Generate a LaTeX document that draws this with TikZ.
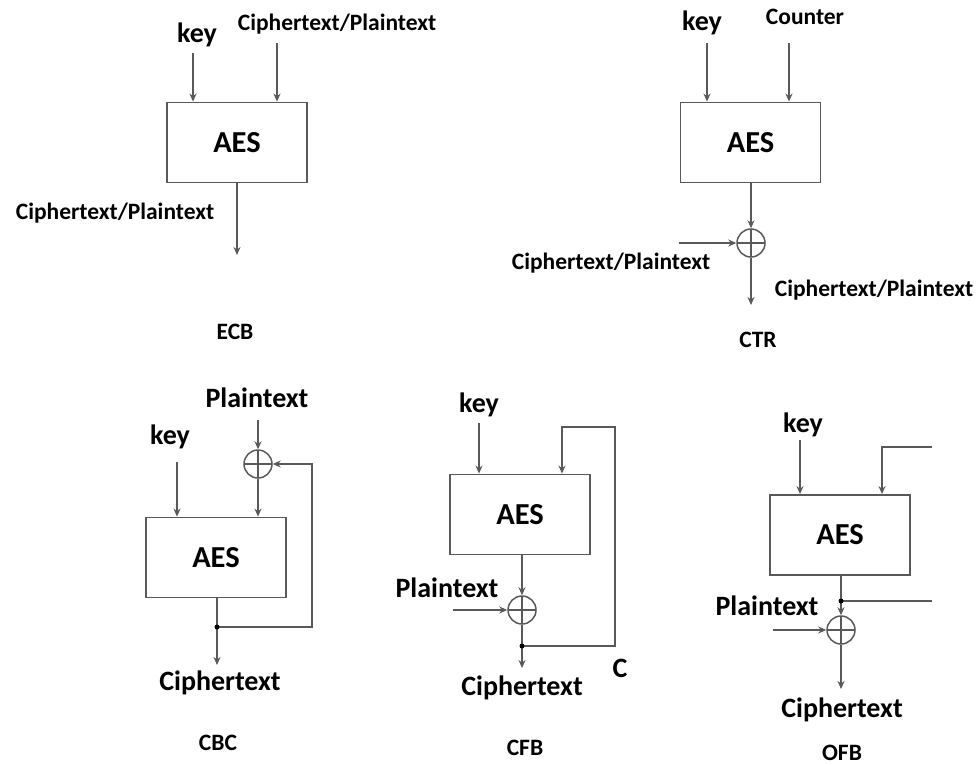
\documentclass[tikz,border=0pt]{standalone}
\usepackage{fontspec}
\setmainfont{Carlito}
\usetikzlibrary{arrows.meta}

\tikzset{
  wire/.style={draw=black!65, line width=1.8pt},
  flow/.style={wire, -{Stealth[length=8pt,width=7pt]}},
  aesbox/.style={draw=black!65, line width=1.8pt, minimum width=140pt, minimum height=80pt,
    font=\fontsize{30.5}{32}\selectfont\bfseries},
  xorgate/.style={circle, draw=black!65, line width=1.5pt, minimum size=28pt, inner sep=0pt,
    path picture={\draw[black!65, line width=1.3pt]
      (path picture bounding box.north) -- (path picture bounding box.south)
      (path picture bounding box.west) -- (path picture bounding box.east);}},
  big/.style={font=\fontsize{28}{30}\selectfont\bfseries},
  small/.style={font=\fontsize{23.5}{25}\selectfont\bfseries},
  modename/.style={font=\fontsize{23.5}{25}\selectfont\bfseries}
}

\begin{document}
\begin{tikzpicture}[x=1pt, y=-1pt]
  \useasboundingbox (0,0) rectangle (979,765);

  % ECB
  \node[aesbox] (ecb) at (237,142.5) {AES};
  \node[big] (ecbkey) at (197,35) {key};
  \node[small] (ecbin) at (337,24) {Ciphertext/Plaintext};
  \node[small] (ecbout) at (115,213) {Ciphertext/Plaintext};
  \node[modename] (ecbname) at (235,332) {ECB};
  \coordinate (ecbk) at (193,53);
  \coordinate (ecbi) at (277,43);
  \coordinate (ecbo) at (237,255);
  \draw[flow] (ecbk) -- (ecbk |- ecb.north);
  \draw[flow] (ecbi) -- (ecbi |- ecb.north);
  \draw[flow] (ecb.south -| ecbo) -- (ecbo);

  % CTR
  \node[aesbox] (ctr) at (750.5,142.5) {AES};
  \node[big] (ctrkey) at (702,23) {key};
  \node[small] (ctrcnt) at (805,17) {Counter};
  \node[xorgate] (ctrx) at (751,243) {};
  \node[small] (ctrin) at (611,263) {Ciphertext/Plaintext};
  \node[small] (ctrout) at (874,290) {Ciphertext/Plaintext};
  \node[modename] (ctrname) at (758,340) {CTR};
  \coordinate (ctrk) at (707,43);
  \coordinate (ctrc) at (789,43);
  \coordinate (ctri) at (679,243);
  \coordinate (ctro) at (751,305);
  \draw[flow] (ctrk) -- (ctrk |- ctr.north);
  \draw[flow] (ctrc) -- (ctrc |- ctr.north);
  \draw[flow] (ctr.south -| ctrx) -- (ctrx.north);
  \draw[flow] (ctri) -- (ctrx.west);
  \draw[flow] (ctrx.south) -- (ctro);

  % CBC
  \node[aesbox] (cbc) at (216,557.5) {AES};
  \node[big] (cbcpt) at (257,398) {Plaintext};
  \node[big] (cbckey) at (170,437) {key};
  \node[xorgate] (cbcx) at (258,464) {};
  \node[big] (cbcct) at (220,683) {Ciphertext};
  \node[modename] (cbcname) at (218,743) {CBC};
  \coordinate (cbck) at (177,462);
  \coordinate (cbcp) at (258,420);
  \coordinate (cbcj) at (217,627);
  \coordinate (cbco) at (217,665);
  \coordinate (cbcr) at (312,627);
  \draw[flow] (cbck) -- (cbck |- cbc.north);
  \draw[flow] (cbcp) -- (cbcx.north);
  \draw[flow] (cbcx.south) -- (cbcx |- cbc.north);
  \draw[flow] (cbc.south -| cbcj) -- (cbco);
  \draw[flow] (cbcj) -- (cbcr) |- (cbcx.east);
  \fill (cbcj) circle (2.5);

  % CFB
  \node[aesbox] (cfb) at (520,514.5) {AES};
  \node[big] (cfbkey) at (479,405) {key};
  \node[xorgate] (cfbx) at (522,610) {};
  \node[big] (cfbpt) at (447,588) {Plaintext};
  \node[big] (cfbct) at (522,688) {Ciphertext};
  \node[big] (cfbc) at (620,668) {C};
  \node[modename] (cfbname) at (525,748) {CFB};
  \coordinate (cfbk) at (479,423);
  \coordinate (cfbp) at (453,610);
  \coordinate (cfbj) at (522,646);
  \coordinate (cfbo) at (522,668);
  \coordinate (cfbr) at (615,427);
  \coordinate (cfbt) at (562,427);
  \draw[flow] (cfbk) -- (cfbk |- cfb.north);
  \draw[flow] (cfb.south -| cfbx) -- (cfbx.north);
  \draw[flow] (cfbp) -- (cfbx.west);
  \draw[flow] (cfbx.south) -- (cfbo);
  \draw[flow] (cfbj) -| (cfbr) -| (cfb.north -| cfbt);
  \fill (cfbj) circle (2.5);

  % OFB
  \node[aesbox] (ofb) at (840,535) {AES};
  \node[big] (ofbkey) at (803,425) {key};
  \node[xorgate] (ofbx) at (841,630) {};
  \node[big] (ofbpt) at (767,606) {Plaintext};
  \node[big] (ofbct) at (842,710) {Ciphertext};
  \node[modename] (ofbname) at (842,753) {OFB};
  \coordinate (ofbk) at (800,440);
  \coordinate (ofbp) at (773,630);
  \coordinate (ofbj) at (841,601);
  \coordinate (ofbo) at (841,689);
  \coordinate (ofbe) at (932,601);
  \coordinate (ofbf) at (932,447);
  \coordinate (ofbt) at (882,447);
  \draw[flow] (ofbk) -- (ofbk |- ofb.north);
  \draw[flow] (ofbf) -| (ofb.north -| ofbt);
  \draw[flow] (ofb.south -| ofbj) -- (ofbx.north);
  \draw[wire] (ofbj) -- (ofbe);
  \draw[flow] (ofbp) -- (ofbx.west);
  \draw[flow] (ofbx.south) -- (ofbo);
  \fill (ofbj) circle (2.5);
\end{tikzpicture}
\end{document}
